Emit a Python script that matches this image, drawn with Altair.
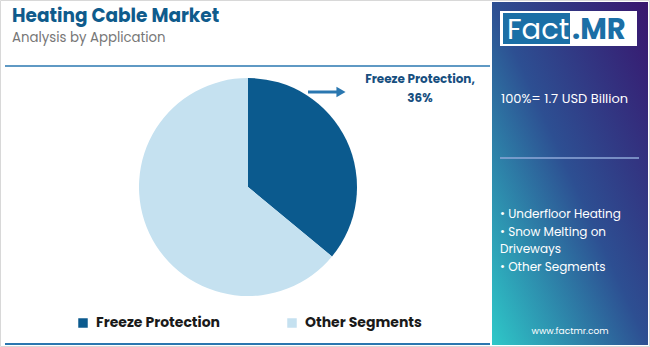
import altair as alt
import pandas as pd

categories = ["Freeze Protection", "Other Segments"]
shares = [36, 64]
colors = ["#0b5a8e", "#c5e1f0"]
bullets = ["• Underfloor Heating", "• Snow Melting on", "Driveways", "• Other Segments"]
title_text = "Heating Cable Market"
subtitle_text = "Analysis by Application"
total_text = "100%= 1.7 USD Billion"
label_lines = ["Freeze Protection,", "36%"]

W, H = 650, 347
FONT = "Poppins, Inter, sans-serif"

pie_df = pd.DataFrame({"cat": categories, "share": shares, "ord": [0, 1]})
one = pd.DataFrame({"a": [0]})

def base():
    return alt.Chart(one)

# Outer border
border = base().mark_rect(fill="white", stroke="#d8d8d8", strokeWidth=1).encode(
    x=alt.value(0.5), x2=alt.value(W - 0.5), y=alt.value(0.5), y2=alt.value(H - 0.5))

# Right gradient panel
panel = base().mark_rect(
    color=alt.Gradient(gradient="linear", x1=1, y1=0, x2=0, y2=1,
                       stops=[alt.GradientStop(color="#38166e", offset=0),
                              alt.GradientStop(color="#2d4f92", offset=0.5),
                              alt.GradientStop(color="#2ec8c8", offset=1)])
).encode(x=alt.value(492), x2=alt.value(648), y=alt.value(2), y2=alt.value(345))

logo_bg = base().mark_rect(fill="white").encode(
    x=alt.value(500), x2=alt.value(637), y=alt.value(11), y2=alt.value(46))
logo_blue = base().mark_rect(fill="#1b6fa6").encode(
    x=alt.value(503), x2=alt.value(570), y=alt.value(13), y2=alt.value(44))
logo_fact = base().mark_text(text="Fact", color="white", fontSize=29, font=FONT,
                             align="left", baseline="middle").encode(
    x=alt.value(507), y=alt.value(30))
logo_mr = base().mark_text(text=".MR", color="#1b6fa6", fontSize=29, font=FONT,
                           fontWeight="bold", align="left", baseline="middle").encode(
    x=alt.value(572), y=alt.value(30))

total = base().mark_text(text=total_text, color="white", fontSize=13, font=FONT,
                         align="left", baseline="middle").encode(
    x=alt.value(501), y=alt.value(99))
panel_line = base().mark_rule(color="#8fa8d8", strokeWidth=1.5).encode(
    x=alt.value(500), x2=alt.value(639), y=alt.value(158))

bullet_df = pd.DataFrame({"t": bullets, "i": list(range(len(bullets)))})
bullet_layer = alt.Chart(bullet_df).mark_text(color="white", fontSize=12, font=FONT,
                                              align="left", baseline="middle").encode(
    text="t:N",
    x=alt.value(500),
    y=alt.Y("i:Q", scale=alt.Scale(domain=[0, 3], range=[214, 267]), axis=None))

site = base().mark_text(text="www.factmr.com", color="white", fontSize=9, font=FONT,
                        align="center", baseline="middle").encode(
    x=alt.value(570), y=alt.value(331))

# Titles
title = base().mark_text(text=title_text, color="#0f5b8c", fontSize=18.5, font=FONT,
                         fontWeight="bold", align="left", baseline="middle").encode(
    x=alt.value(12), y=alt.value(16))
subtitle = base().mark_text(text=subtitle_text, color="#777777", fontSize=13.3, font=FONT,
                            align="left", baseline="middle").encode(
    x=alt.value(12), y=alt.value(38))
top_line = base().mark_rule(color="#2a77b0", strokeWidth=1.5).encode(
    x=alt.value(5), x2=alt.value(490), y=alt.value(66))
bottom_line = base().mark_rule(color="#2a77b0", strokeWidth=2).encode(
    x=alt.value(5), x2=alt.value(490), y=alt.value(344))

# Pie
pie = alt.Chart(pie_df).mark_arc(radius=109).encode(
    theta=alt.Theta("share:Q", stack=True),
    order=alt.Order("ord:Q"),
    color=alt.Color("cat:N", scale=alt.Scale(domain=categories, range=colors), legend=None),
    x=alt.value(248), y=alt.value(187))

# Arrow + label
arrow_line = base().mark_rule(color="#2a77b0", strokeWidth=3).encode(
    x=alt.value(308), x2=alt.value(338), y=alt.value(92))
arrow_head = base().mark_point(shape="triangle-right", filled=True, color="#2a77b0",
                               size=110, opacity=1).encode(
    x=alt.value(341), y=alt.value(92))
lab_df = pd.DataFrame({"t": label_lines, "i": [0, 1]})
label = alt.Chart(lab_df).mark_text(color="#174f7f", fontSize=12, font=FONT,
                                    fontWeight="bold", align="center", baseline="middle").encode(
    text="t:N", x=alt.value(420),
    y=alt.Y("i:Q", scale=alt.Scale(domain=[0, 1], range=[79, 98]), axis=None))

# Legend
leg_df = pd.DataFrame({"cat": categories, "sx": [83, 292]})
leg_sq = alt.Chart(leg_df).mark_square(size=90, opacity=1, filled=True).encode(
    x=alt.X("sx:Q", scale=alt.Scale(domain=[0, W], range=[0, W]), axis=None),
    y=alt.value(323),
    color=alt.Color("cat:N", scale=alt.Scale(domain=categories, range=colors), legend=None))
leg_tx = alt.Chart(leg_df).transform_calculate(tx="datum.sx + 13").mark_text(
    fontSize=14, font=FONT, fontWeight="bold", color="#1a1a1a", align="left",
    baseline="middle").encode(
    text="cat:N",
    x=alt.X("tx:Q", scale=alt.Scale(domain=[0, W], range=[0, W]), axis=None),
    y=alt.value(323))

chart = alt.layer(
    border, panel, logo_bg, logo_blue, logo_fact, logo_mr, total, panel_line,
    bullet_layer, site, title, subtitle, top_line, bottom_line, pie,
    arrow_line, arrow_head, label, leg_sq, leg_tx
).resolve_scale(x="independent", y="independent", color="independent").properties(
    width=W, height=H, padding=0, autosize=alt.AutoSizeParams(type="none")
).configure_view(stroke=None)

chart.save("out.html", embed_options={"renderer": "svg", "actions": False})
